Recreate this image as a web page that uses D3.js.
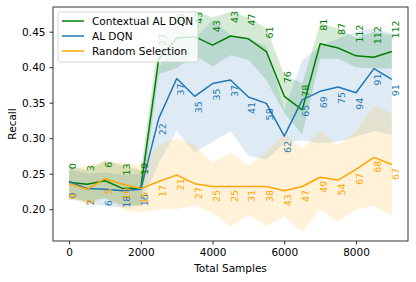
<!DOCTYPE html>
<html>
<head>
<meta charset="utf-8">
<script src="https://cdn.jsdelivr.net/npm/d3@7"></script>
<style>
  body { margin: 0; background: #fff; }
  svg { font-family: "DejaVu Sans", sans-serif; }
</style>
</head>
<body>
<svg id="vis" width="416" height="282"></svg>
<script>
// samples on the x axis
const samples = [0, 500, 1000, 1500, 2000, 2500, 3000, 3500, 4000, 4500, 5000, 5500, 6000, 6500, 7000, 7500, 8000, 8500, 9000];

// Contextual AL DQN
const ctxMean  = [0.238, 0.235, 0.240, 0.229, 0.230, 0.412, 0.441, 0.443, 0.431, 0.444, 0.440, 0.422, 0.359, 0.340, 0.433, 0.427, 0.416, 0.414, 0.422];
const ctxUpper = [0.261, 0.255, 0.268, 0.262, 0.255, 0.440, 0.465, 0.480, 0.470, 0.478, 0.470, 0.455, 0.389, 0.377, 0.462, 0.455, 0.441, 0.450, 0.445];
const ctxLower = [0.213, 0.212, 0.215, 0.205, 0.205, 0.390, 0.399, 0.417, 0.401, 0.417, 0.410, 0.382, 0.336, 0.305, 0.412, 0.412, 0.400, 0.398, 0.398];
const ctxCount = ["0", "3", "6", "13", "19", "27", "35", "43", "43", "43", "47", "61", "76", "78", "81", "87", "112", "112", "112"];

// AL DQN
const dqnMean  = [0.239, 0.229, 0.228, 0.226, 0.228, 0.328, 0.384, 0.359, 0.377, 0.382, 0.358, 0.349, 0.303, 0.354, 0.366, 0.372, 0.364, 0.398, 0.383];
const dqnUpper = [0.257, 0.250, 0.252, 0.248, 0.250, 0.400, 0.440, 0.440, 0.466, 0.445, 0.440, 0.430, 0.340, 0.410, 0.430, 0.440, 0.450, 0.455, 0.448];
const dqnLower = [0.220, 0.208, 0.205, 0.202, 0.207, 0.265, 0.310, 0.280, 0.295, 0.310, 0.275, 0.270, 0.293, 0.297, 0.293, 0.295, 0.302, 0.310, 0.305];
const dqnCount = ["0", "2", "6", "18", "16", "22", "37", "35", "35", "37", "41", "58", "62", "65", "69", "75", "94", "91", "91"];

// Random Selection
const rndMean  = [0.236, 0.228, 0.243, 0.235, 0.229, 0.239, 0.248, 0.236, 0.232, 0.232, 0.232, 0.232, 0.226, 0.232, 0.245, 0.241, 0.256, 0.273, 0.263];
const rndUpper = [0.255, 0.262, 0.268, 0.265, 0.262, 0.290, 0.300, 0.290, 0.265, 0.280, 0.262, 0.280, 0.305, 0.285, 0.310, 0.290, 0.310, 0.345, 0.335];
const rndLower = [0.218, 0.205, 0.218, 0.200, 0.195, 0.200, 0.200, 0.205, 0.195, 0.175, 0.192, 0.176, 0.190, 0.168, 0.200, 0.182, 0.200, 0.205, 0.190];
const rndCount = ["0", "2", "5", "10", "15", "17", "21", "27", "25", "25", "31", "38", "43", "47", "49", "54", "67", "68", "67"];

const xTicks = [0, 2000, 4000, 6000, 8000];
const yTicks = [0.20, 0.25, 0.30, 0.35, 0.40, 0.45];

const margin = {top: 7, right: 8, bottom: 41, left: 53},
  width = 416 - margin.left - margin.right,
  height = 282 - margin.top - margin.bottom;

const svg = d3.select("#vis")
  .append("g")
  .attr("transform", `translate(${margin.left}, ${margin.top})`);

const x = d3.scaleLinear().domain([-450, 9450]).range([0, width]);
const y = d3.scaleLinear().domain([0.1552, 0.4848]).range([height, 0]);

svg.append("clipPath").attr("id", "clip")
  .append("rect").attr("width", width).attr("height", height);

const series = [
  {name: "Contextual AL DQN", color: "#008000", mean: ctxMean, upper: ctxUpper, lower: ctxLower, count: ctxCount, alpha: 0.17, off: -13},
  {name: "AL DQN", color: "#1f77b4", mean: dqnMean, upper: dqnUpper, lower: dqnLower, count: dqnCount, alpha: 0.15, off: 17},
  {name: "Random Selection", color: "#ffa500", mean: rndMean, upper: rndUpper, lower: rndLower, count: rndCount, alpha: 0.15, off: 15.5}
];

const plot = svg.append("g").attr("clip-path", "url(#clip)");

series.forEach(s => {
  const area = d3.area()
    .x((d, i) => x(samples[i]))
    .y0((d, i) => y(s.lower[i]))
    .y1((d, i) => y(s.upper[i]));
  plot.append("path")
    .datum(s.mean)
    .attr("d", area)
    .style("fill", s.color)
    .style("fill-opacity", s.alpha)
    .style("stroke", "none");
});

series.forEach(s => {
  const line = d3.line()
    .x((d, i) => x(samples[i]))
    .y(d => y(d));
  plot.append("path")
    .datum(s.mean)
    .attr("d", line)
    .style("fill", "none")
    .style("stroke", s.color)
    .style("stroke-width", 1.5)
    .style("stroke-linejoin", "round");

  // sample counts, written vertically next to each point
  svg.append("g")
    .selectAll("text")
    .data(s.mean)
    .join("text")
      .attr("transform", (d, i) => `translate(${x(samples[i]) + 7}, ${y(d) + s.off}) rotate(-90)`)
      .attr("text-anchor", "start")
      .style("font-size", "9.5px")
      .style("fill", s.color)
      .text((d, i) => s.count[i]);
});

// axes
const xAxis = svg.append("g")
  .attr("transform", `translate(0, ${height})`)
  .call(d3.axisBottom(x).tickValues(xTicks).tickFormat(d3.format("d")).tickSize(3.5).tickPadding(4.5));
const yAxis = svg.append("g")
  .call(d3.axisLeft(y).tickValues(yTicks).tickFormat(d3.format(".2f")).tickSize(3.5).tickPadding(4));

[xAxis, yAxis].forEach(a => {
  a.select(".domain").remove();
  a.selectAll(".tick line").style("stroke", "#000").style("stroke-width", 0.8);
  a.selectAll(".tick text").style("font-size", "10.5px").style("fill", "#000")
    .style("font-family", "DejaVu Sans, sans-serif");
});

svg.append("rect")
  .attr("width", width)
  .attr("height", height)
  .style("fill", "none")
  .style("stroke", "#000")
  .style("stroke-width", 0.8);

svg.append("text")
  .attr("x", width / 2)
  .attr("y", height + 31)
  .attr("text-anchor", "middle")
  .style("font-size", "10.5px")
  .text("Total Samples");

svg.append("text")
  .attr("transform", `translate(${16 - margin.left}, ${height / 2}) rotate(-90)`)
  .attr("text-anchor", "middle")
  .style("font-size", "10.5px")
  .text("Recall");

// legend
const legend = svg.append("g").attr("transform", "translate(5, 5)");
legend.append("rect")
  .attr("width", 140)
  .attr("height", 50)
  .attr("rx", 2)
  .style("fill", "#fff")
  .style("fill-opacity", 0.8)
  .style("stroke", "#cccccc")
  .style("stroke-width", 0.8);

series.forEach((s, i) => {
  const ly = 9 + i * 15;
  legend.append("line")
    .attr("x1", 4).attr("x2", 26)
    .attr("y1", ly).attr("y2", ly)
    .style("stroke", s.color)
    .style("stroke-width", 1.5);
  legend.append("text")
    .attr("x", 34)
    .attr("y", ly + 3.8)
    .style("font-size", "10.5px")
    .text(s.name);
});
</script>
</body>
</html>
